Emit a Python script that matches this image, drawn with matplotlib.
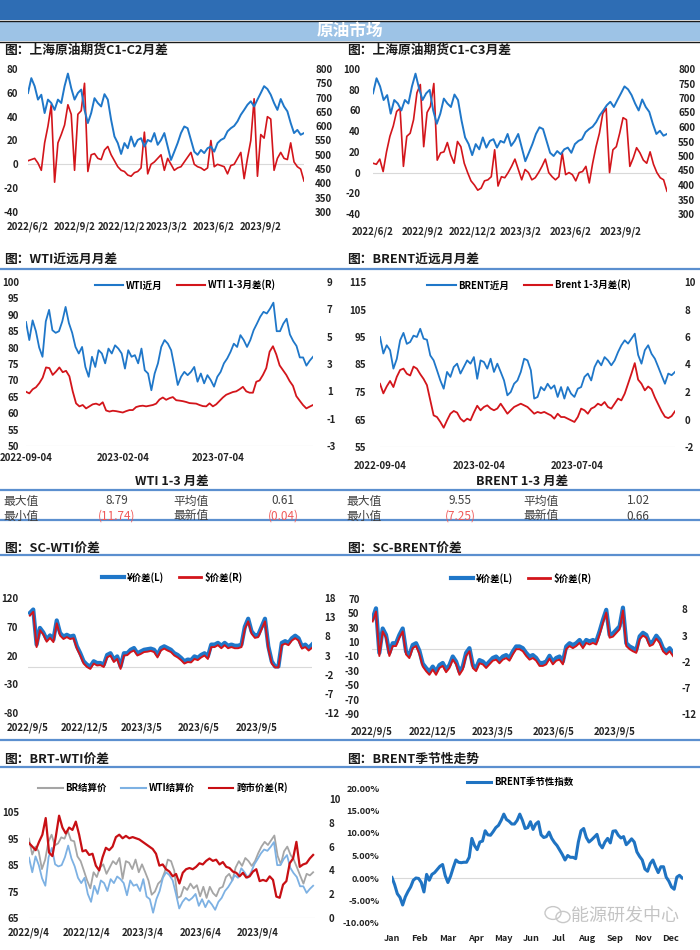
import matplotlib
matplotlib.use("Agg")
import matplotlib.pyplot as plt
import matplotlib.dates as mdates
from matplotlib.lines import Line2D
from matplotlib.patches import Rectangle, Ellipse
import numpy as np
import pandas as pd

plt.rcParams['font.family'] = ['Noto Sans CJK SC', 'DejaVu Sans']
plt.rcParams['font.weight'] = 'bold'
plt.rcParams['axes.unicode_minus'] = False

# ---------------- data ----------------
# SC crude front price (right axis of the two top charts)
sc_price = [716, 768, 740, 693, 710, 646, 693, 681, 657, 693,
            681, 740, 784, 733, 693, 716, 728, 657, 611, 646,
            698, 681, 669, 712, 693, 622, 564, 541, 503, 541,
            523, 564, 529, 552, 558, 529, 552, 546, 576, 535,
            552, 576, 529, 482, 511, 541, 576, 599, 593, 552,
            511, 500, 517, 506, 523, 529, 511, 541, 552, 558,
            582, 593, 601, 617, 640, 657, 675, 687, 669, 693,
            716, 740, 730, 710, 681, 657, 695, 669, 652, 611,
            576, 587, 570, 576]
sc_c1c2 = [3, 4, 5, 1, -5, 18, 32, 50, -15, 18,
           25, 33, 50, 42, -5, 42, 45, 68, -6, 8,
           9, 5, 4, 12, 15, 8, 3, -2, -5, -6,
           -9, -10, -7, -6, -3, 27, -8, 0, 2, 5,
           8, -5, 5, 0, -5, -3, -2, 2, 6, 10,
           0, -2, -3, -5, -3, 20, -2, 0, -1, -2,
           -8, -1, 0, 5, 10, -12, 5, 20, 55, -10,
           25, 22, 40, 38, -5, 5, 10, 5, 4, 18,
           2, -2, -4, -14]
sc_c1c3 = [9, 8, 13, 1, 20, 35, 45, 59, 62, 6,
           35, 38, 51, 77, 85, 25, 58, 64, 86, 12,
           19, 20, 29, 17, 9, 30, 25, 9, 0, -8,
           -12, -17, -15, -8, -7, -4, 22, -13, -4, -5,
           0, 6, 13, 3, -7, 3, 0, -7, -5, 0,
           6, 13, 0, -4, -7, -4, 19, -2, 0, -2,
           -8, 0, 1, 6, -10, 9, 25, 38, 57, 62,
           0, 22, 25, 38, 53, 51, 6, 14, 24, 19,
           12, 9, 20, 8, 0, -5, -7, -18]

wti_near = [87.8, 82.3, 88.3, 85.0, 80.0, 77.2, 88.0, 91.5, 85.3, 84.5,
            85.0, 88.0, 92.4, 87.5, 84.5, 80.2, 78.2,
            80.2, 74.1, 71.1, 77.2, 74.1, 79.2, 78.2, 75.2, 79.7, 78.2,
            80.7, 79.7, 78.2, 73.6, 79.2, 77.2, 77.7, 75.2, 79.7, 73.1,
            72.1, 67.0, 72.1, 75.2, 80.2, 82.3, 81.2, 79.2, 74.1, 68.6,
            71.1, 72.6, 71.6, 72.6, 74.1, 69.6, 72.1, 69.1, 71.6, 70.1,
            68.1, 71.1, 72.6, 75.2, 76.7, 78.7, 81.2, 80.2, 83.8, 82.3,
            80.2, 82.3, 85.3, 87.3, 89.4, 90.9,
            90.4, 91.9, 93.7, 85.0, 85.0, 87.3, 88.8, 84.0, 82.0, 80.5,
            77.0, 77.0, 74.5, 76.0, 77.2]
wti_13 = [0.97, 0.85, 1.15, 1.3, 1.6, 2.0, 2.75, 2.7, 2.2, 2.45,
          2.75, 2.4, 2.5, 2.1, 1.0, 0.12, -0.1, 0.0, -0.25, -0.1,
          0.05, 0.1, 0.0, 0.2, -0.4, -0.48, -0.42, -0.45, -0.5, -0.55,
          -0.45, -0.37, -0.37, -0.15, -0.08, -0.05, -0.1, -0.05, 0.0, 0.1,
          0.4, 0.55, 0.38, 0.5, 0.58, 0.35, 0.32, 0.28, 0.22, 0.14,
          0.12, 0.1, 0.0, -0.08, -0.1, 0.12, -0.1, 0.05, 0.3, 0.55,
          0.75, 0.85, 0.95, 1.0, 1.15, 1.33, 1.0, 0.9, 0.9, 1.7,
          1.8, 2.2, 2.7, 3.9, 4.3, 3.7, 2.9, 2.55, 2.2, 1.75,
          1.4, 0.65, 0.32, 0.0, -0.25, -0.12, 0.0]

brent_near = [95.0, 89.0, 92.0, 90.2, 83.5, 87.0, 93.8, 96.5, 92.5, 93.2,
              95.5, 95.0, 98.0, 94.4, 94.0, 88.3, 86.5, 82.9, 79.2, 76.2,
              82.3, 80.5, 84.1, 85.3, 81.7, 84.1, 86.5, 85.3, 87.7, 79.8,
              86.5, 85.9, 83.5, 87.1, 82.3, 85.3, 82.3, 79.2, 73.8, 75.0,
              78.0, 79.2, 82.3, 87.1, 86.5, 82.9, 72.6, 73.2, 76.8, 75.6,
              78.0, 76.2, 77.4, 73.2, 76.8, 72.6, 76.8, 74.4, 73.2, 76.2,
              76.8, 80.5, 81.7, 79.2, 84.1, 86.5, 84.7, 87.7, 86.5, 84.7,
              86.5, 89.5, 92.0, 93.8, 92.6, 94.4, 96.2, 88.5, 85.3, 90.2,
              92.0, 88.9, 87.1, 84.1, 81.0, 78.0, 81.7, 81.1, 82.3]
brent_13 = [2.6, 1.9, 2.4, 2.8, 2.36, 3.1, 3.6, 3.7, 3.33, 3.2,
            3.85, 3.7, 3.3, 2.95, 2.5, 1.4, 0.3, 0.18, -0.18, -0.6,
            -0.06, 0.42, 0.62, 0.5, 0.06, -0.15, 0.06, -0.06, 0.5, 1.0,
            0.67, 0.91, 1.03, 0.8, 0.67, 0.8, 1.15, 0.79, 0.42, 0.67,
            0.91, 1.03, 1.15, 1.03, 0.91, 0.67, 0.42, 0.55, 0.47, 0.55,
            0.42, 0.3, 0.06, 0.42, 0.18, 0.18, 0.06, -0.06, -0.18, 0.18,
            0.79, 0.67, 0.42, 0.79, 0.91, 1.15, 1.03, 1.27, 0.91, 0.79,
            1.15, 1.52, 1.39, 1.88, 2.6, 3.33, 4.1, 2.9, 2.6, 2.12,
            2.4, 2.2, 1.6, 1.1, 0.6, 0.2, 0.1, 0.25, 0.6]

sc_wti_cny = [94, 100, 39, 68, 60, 48, 55, 47.5, 81, 59,
              53, 56, 53, 54.5, 36, 24, 10, 4, 1, 10,
              7, 7, 4, 21, 24, 13, 18.5, 1, 24, 24,
              30, 33, 24, 27, 30, 31, 32, 30, 21, 33,
              36, 33, 30, 24, 21, 16, 10, 13, 12, 18.5,
              16, 21, 24, 18.5, 39, 39, 42, 37, 42, 37,
              39, 37, 37, 39, 70, 84, 62, 55, 56, 70,
              84, 36, 10, 1, 1, 42, 45, 42, 50, 54.5,
              50, 36, 39, 33, 39]
sc_wti_usd = [13.4, 14.4, 5.2, 9.6, 8.5, 6.6, 7.6, 6.5, 11.4, 8.2,
              7.3, 7.8, 7.3, 7.5, 4.8, 3.0, 0.9, 0.0, -0.5, 0.9,
              0.4, 0.5, 0.0, 2.5, 3.0, 1.3, 2.1, -0.5, 3.0, 3.1,
              3.9, 4.3, 3.0, 3.4, 3.9, 4.0, 4.2, 3.9, 2.5, 4.3,
              4.8, 4.3, 3.9, 3.0, 2.5, 1.8, 0.9, 1.3, 1.2, 2.1,
              1.8, 2.5, 3.0, 2.1, 5.2, 5.2, 5.7, 4.9, 5.7, 4.9,
              5.2, 4.9, 4.9, 5.2, 9.9, 11.9, 8.7, 7.6, 7.8, 9.9,
              11.9, 4.8, 0.9, -0.1, -0.1, 5.7, 6.1, 5.7, 6.9, 7.5,
              6.9, 4.8, 5.2, 4.3, 5.0]

sc_brent_cny = [43, 57, -5, 29, 20, -5, 8.5, 8.5, 20, 29,
                -3, -8, 6, 8.5, -2, -20, -26, -31, -24, -31,
                -22, -19, -28, -22, -10, -17, -31, -24, -5, 1.6,
                -22, -26, -15, -17, -22, -17, -12, -10, -15, -10,
                -8, -12, -3, 4, 4, 1.6, -5, -10, -8, -12,
                -19, -19, -17, -9, -17, -12, -10, -17, 4, 8.5,
                6, 8.5, 13, 6, 13, 11, 13, 11, 25, 41,
                55, 20, 22, 27, 32, 58, 8.5, 4, 1.6, -1,
                18, 23, 20, 8.5, 11, 19, 13, 1.6, -3, 1.6, -5]
sc_brent_usd = [5.7, 7.6, -0.9, 3.8, 2.6, -0.9, 1.0, 1.0, 2.6, 3.8,
                -0.6, -1.3, 0.6, 1.0, -0.5, -2.9, -3.8, -4.5, -3.5, -4.5,
                -3.2, -2.8, -4.0, -3.2, -1.6, -2.5, -4.5, -3.5, -0.9, 0.0,
                -3.2, -3.8, -2.3, -2.5, -3.2, -2.5, -1.8, -1.6, -2.3, -1.6,
                -1.3, -1.8, -0.6, 0.4, 0.4, 0.0, -0.9, -1.6, -1.3, -1.8,
                -2.8, -2.8, -2.5, -1.4, -2.5, -1.8, -1.6, -2.5, 0.4, 1.0,
                0.6, 1.0, 1.6, 0.6, 1.6, 1.3, 1.6, 1.3, 3.2, 5.4,
                7.4, 2.6, 2.8, 3.5, 4.2, 7.8, 1.0, 0.4, 0.0, -0.3,
                2.3, 3.0, 2.6, 1.0, 1.3, 2.4, 1.6, 0.0, -0.6, 0.0, -0.9]

brt_wti_spread = [6.3, 6.0, 5.7, 6.4, 7.0, 8.4, 5.5, 5.2, 6.8, 8.6,
                  7.6, 7.1, 7.6, 7.4, 8.1, 7.0, 5.6, 5.7, 5.3, 5.4,
                  4.4, 4.0, 5.1, 5.9, 5.7, 6.0, 6.8, 7.0, 6.7, 6.9,
                  6.7, 6.8, 6.7, 6.6, 6.4, 6.2, 6.0, 5.8, 5.4, 4.4,
                  4.5, 4.1, 3.9, 3.5, 3.7, 2.9, 3.8, 4.1, 4.2, 4.1,
                  4.3, 4.6, 4.5, 4.8, 5.0, 4.8, 4.9, 4.5, 4.7, 4.3,
                  4.2, 3.9, 3.8, 3.5, 3.8, 3.4, 3.5, 3.9, 4.1, 3.1,
                  3.2, 3.1, 3.5, 3.2, 1.8, 1.7, 2.8, 3.1, 4.6, 5.0,
                  6.4, 4.3, 4.5, 4.6, 5.0, 5.3]

brent_season = [0.1, -1.5, -3.5, -4.3, -6.0, -4.2, -3.0, -2.0, -0.5, 0.0,
                -0.1, -1.0, -3.1, 0.8, -0.5, 0.8, 1.2, 1.9, 2.6, 3.0,
                0.5, -1.0, 0.4, 2.3, 4.0, 3.5, 3.4, 3.5, 3.5, 4.6,
                8.8, 7.2, 6.3, 8.0, 8.2, 10.5, 9.6, 9.5, 10.3, 11.2,
                11.7, 12.8, 14.2, 13.0, 12.6, 12.0, 12.0, 12.8, 14.2, 12.8,
                11.0, 11.2, 12.5, 10.8, 12.0, 12.5, 9.6, 9.0, 9.2, 10.2,
                8.8, 7.9, 7.2, 6.2, 5.2, 4.0, 5.0, 4.6, 4.6, 4.3,
                8.0, 10.5, 11.0, 9.0, 8.0, 8.5, 9.1, 9.7, 7.5, 6.7,
                8.0, 8.8, 7.8, 10.4, 10.5, 9.5, 8.9, 9.2, 7.4, 8.0,
                8.7, 8.0, 5.8, 4.8, 4.0, 2.0, 1.5, 3.2, 4.0, 2.5,
                1.2, 2.5, 2.5, 0.2, -0.7, -2.0, -2.5, 0.2, 0.6, 0.0]
season_months = ['Jan', 'Feb', 'Mar', 'Apr', 'May', 'Jun', 'Jul', 'Aug', 'Sep', 'Nov', 'Dec']

# ---------------- layout helpers ----------------
W, H = 700, 950
BLUE = '#1f77c9'
RED = '#d3151b'
LINE_BLUE = '#5b8fcf'
fig = plt.figure(figsize=(7, 9.5), dpi=100)


def px_axes(x0, y0, x1, y1):
    return fig.add_axes([x0 / W, 1 - y1 / H, (x1 - x0) / W, (y1 - y0) / H])


def dnum(start, end, n):
    return mdates.date2num(pd.date_range(start, end, periods=n).to_pydatetime())


def style(ax, ylim, yticks, fmt=str, pad=5, size=7):
    ax.set_ylim(*ylim)
    ax.set_yticks(yticks)
    ax.set_yticklabels([fmt(v) for v in yticks])
    for s in ax.spines.values():
        s.set_visible(False)
    ax.tick_params(length=0, labelsize=size, pad=pad, colors='#222222')
    ax.patch.set_visible(False)


def date_ticks(ax, dates, fmt, xlim):
    ts = pd.to_datetime(dates)
    ax.set_xticks(mdates.date2num(ts.to_pydatetime()))
    ax.set_xticklabels([fmt(t) for t in ts])
    ax.set_xlim(*mdates.date2num(pd.to_datetime(xlim).to_pydatetime()))


slash = lambda t: f"{t.year}/{t.month}/{t.day}"
dash = lambda t: t.strftime('%Y-%m-%d')


def legend(ax, items, cx, cy, hl=3.0):
    handles = [Line2D([], [], color=c, lw=w) for _, c, w in items]
    ax.legend(handles, [t for t, _, _ in items], loc='center',
              bbox_to_anchor=(cx / W, 1 - cy / H), bbox_transform=fig.transFigure,
              ncol=len(items), frameon=False, handlelength=hl, columnspacing=1.5,
              handletextpad=0.3, prop={'size': 6.8, 'weight': 'bold'})


def ftext(x, y, s, **kw):
    fig.text(x / W, 1 - y / H, s, **kw)


def hline(y, x0=0, x1=700, color=LINE_BLUE, lw=1.6):
    fig.add_artist(Line2D([x0 / W, x1 / W], [1 - y / H, 1 - y / H], color=color, lw=lw))


# ---------------- header ----------------
fig.add_artist(Rectangle((0, 1 - 20 / H), 1, 20 / H, transform=fig.transFigure,
                         facecolor='#2e6db4', edgecolor='none'))
fig.add_artist(Rectangle((0, 1 - 41 / H), 1, 20 / H, transform=fig.transFigure,
                         facecolor='#9dc3e6', edgecolor='none'))
hline(20.5, color='#1a1a1a', lw=1.0)
hline(41.5, color='#1a1a1a', lw=1.0)
ftext(350, 31, '原油市场', color='white', fontsize=12, ha='center', va='center')

title_kw = dict(fontsize=9.2, va='center', color='#1a1a1a')
ftext(4, 50, '图：上海原油期货C1-C2月差', **title_kw)
ftext(347, 50, '图：上海原油期货C1-C3月差', **title_kw)
ftext(4, 260, '图：WTI近远月月差', **title_kw)
ftext(347, 260, '图：BRENT近远月月差', **title_kw)
ftext(4, 548, '图：SC-WTI价差', **title_kw)
ftext(347, 548, '图：SC-BRENT价差', **title_kw)
ftext(4, 759, '图：BRT-WTI价差', **title_kw)
ftext(347, 759, '图：BRENT季节性走势', **title_kw)
for y in (269, 490, 520, 554.5, 740, 767):
    hline(y)

ticks_q = ['2022-06-02', '2022-09-02', '2022-12-02', '2023-03-02', '2023-06-02', '2023-09-02']

# ---------------- chart 1: C1-C2 ----------------
ax = px_axes(28, 69, 304, 212)
d = dnum('2022-06-02', '2023-11-27', len(sc_c1c2))
ax.axhline(0, color='#d9d9d9', lw=0.8)
ax.plot(d, sc_c1c2, color=RED, lw=1.2)
style(ax, (-40, 80), range(-40, 81, 20), pad=7)
date_ticks(ax, ticks_q, slash, ('2022-06-02', '2023-11-27'))
ax2 = ax.twinx()
ax2.plot(dnum('2022-06-02', '2023-11-27', len(sc_price)), sc_price, color=BLUE, lw=1.4)
style(ax2, (300, 800), range(300, 801, 50), pad=8)

# ---------------- chart 2: C1-C3 ----------------
ax = px_axes(373, 69, 667, 214)
ax.axhline(0, color='#d9d9d9', lw=0.8)
ax.plot(dnum('2022-06-02', '2023-11-27', len(sc_c1c3)), sc_c1c3, color=RED, lw=1.2)
style(ax, (-40, 100), range(-40, 101, 20), pad=9)
date_ticks(ax, ticks_q, slash, ('2022-06-02', '2023-11-27'))
ax2 = ax.twinx()
ax2.plot(dnum('2022-06-02', '2023-11-27', len(sc_price)), sc_price, color=BLUE, lw=1.4)
style(ax2, (300, 800), range(300, 801, 50), pad=8)

# ---------------- chart 3: WTI ----------------
ax = px_axes(26, 282, 313, 446)
ax.axhline(50, color='#d9d9d9', lw=0.8)
ax.plot(dnum('2022-09-04', '2023-12-01', len(wti_near)), wti_near, color=BLUE, lw=1.3)
style(ax, (50, 100), range(50, 101, 5), pad=5)
date_ticks(ax, ['2022-09-04', '2023-02-04', '2023-07-04'], dash, ('2022-09-04', '2023-12-01'))
ax2 = ax.twinx()
ax2.plot(dnum('2022-09-04', '2023-12-01', len(wti_13)), wti_13, color=RED, lw=1.3)
style(ax2, (-3, 9), range(-3, 10, 2), pad=10)
legend(ax2, [('WTI近月', BLUE, 1.5), ('WTI 1-3月差(R)', RED, 1.5)], 185, 285)

# ---------------- chart 4: BRENT ----------------
ax = px_axes(380, 282, 675, 447)
ax.axhline(55, color='#d9d9d9', lw=0.8)
ax.plot(dnum('2022-09-04', '2023-12-01', len(brent_near)), brent_near, color=BLUE, lw=1.3)
style(ax, (55, 115), range(55, 116, 10), pad=10)
date_ticks(ax, ['2022-09-04', '2023-02-04', '2023-07-04'], dash, ('2022-09-04', '2023-12-01'))
ax2 = ax.twinx()
ax2.plot(dnum('2022-09-04', '2023-12-01', len(brent_13)), brent_13, color=RED, lw=1.3)
style(ax2, (-2, 10), range(-2, 11, 2), pad=7)
legend(ax2, [('BRENT近月', BLUE, 1.5), ('Brent 1-3月差(R)', RED, 1.5)], 529, 285)

# ---------------- tables ----------------
cell = dict(fontsize=8.5, va='center', color='#404040', fontweight='normal')
red_cell = dict(cell, color='#f05a5a')
ftext(172, 481, 'WTI 1-3 月差', fontsize=9, ha='center', va='center', color='#1a1a1a')
ftext(3, 501, '最大值', **cell)
ftext(117, 501, '8.79', ha='center', **cell)
ftext(173, 501, '平均值', **cell)
ftext(283, 501, '0.61', ha='center', **cell)
ftext(3, 516, '最小值', **cell)
ftext(117, 516, '(11.74)', ha='center', **red_cell)
ftext(173, 516, '最新值', **cell)
ftext(283, 516, '(0.04)', ha='center', **red_cell)

ftext(522, 481, 'BRENT 1-3 月差', fontsize=9, ha='center', va='center', color='#1a1a1a')
ftext(346, 501, '最大值', **cell)
ftext(460, 501, '9.55', ha='center', **cell)
ftext(523, 501, '平均值', **cell)
ftext(638, 501, '1.02', ha='center', **cell)
ftext(346, 516, '最小值', **cell)
ftext(460, 516, '(7.25)', ha='center', **red_cell)
ftext(523, 516, '最新值', **cell)
ftext(638, 516, '0.66', ha='center', **cell)

ticks_m = ['2022-09-05', '2022-12-05', '2023-03-05', '2023-06-05', '2023-09-05']

# ---------------- chart 5: SC-WTI ----------------
ax = px_axes(28, 598, 312, 713)
ax.axhline(0, color='#d9d9d9', lw=0.8)
ax.plot(dnum('2022-09-08', '2023-12-03', len(sc_wti_cny)), sc_wti_cny, color=BLUE, lw=3.0)
style(ax, (-80, 120), range(-80, 121, 50), pad=7)
date_ticks(ax, ticks_m, slash, ('2022-09-05', '2023-12-03'))
ax2 = ax.twinx()
ax2.plot(dnum('2022-09-08', '2023-12-03', len(sc_wti_usd)), sc_wti_usd, color=RED, lw=1.4)
style(ax2, (-12, 18), range(-12, 19, 5), pad=9)
legend(ax2, [('¥价差(L)', BLUE, 3.0), ('$价差(R)', RED, 2.0)], 172, 577, hl=2.4)

# ---------------- chart 6: SC-BRENT ----------------
ax = px_axes(372, 599, 673, 714)
ax.axhline(0, color='#d9d9d9', lw=0.8)
ax.plot(dnum('2022-09-06', '2023-12-01', len(sc_brent_cny)), sc_brent_cny, color=BLUE, lw=3.0)
style(ax, (-90, 70), range(-90, 71, 20), pad=9)
date_ticks(ax, ticks_m, slash, ('2022-09-05', '2023-12-01'))
ax2 = ax.twinx()
ax2.plot(dnum('2022-09-06', '2023-12-01', len(sc_brent_usd)), sc_brent_usd, color=RED, lw=1.4)
style(ax2, (-12, 10), range(-12, 9, 5), pad=6)
legend(ax2, [('¥价差(L)', BLUE, 3.0), ('$价差(R)', RED, 2.0)], 521, 578, hl=2.4)

# ---------------- chart 7: BRT-WTI ----------------
ax = px_axes(29, 799, 315, 918)
ax.axhline(65, color='#d9d9d9', lw=0.8)
ax.plot(dnum('2022-09-04', '2023-12-01', len(brent_near)), brent_near, color='#a5a5a5', lw=1.3)
ax.plot(dnum('2022-09-04', '2023-12-01', len(wti_near)), wti_near, color='#7db1e3', lw=1.3)
style(ax, (65, 110), range(65, 106, 10), pad=7)
date_ticks(ax, ['2022-09-04', '2022-12-04', '2023-03-04', '2023-06-04', '2023-09-04'], slash,
           ('2022-09-04', '2023-12-04'))
ax2 = ax.twinx()
ax2.plot(dnum('2022-09-04', '2023-12-01', len(brt_wti_spread)), brt_wti_spread, color='#c80f14', lw=1.6)
style(ax2, (0, 10), range(0, 11, 2), pad=10)
legend(ax2, [('BR结算价', '#a5a5a5', 1.5), ('WTI结算价', '#7db1e3', 1.5), ('跨市价差(R)', '#c80f14', 1.5)],
       163, 788, hl=2.6)

# ---------------- chart 8: BRENT seasonality ----------------
ax = px_axes(392, 788, 683, 923)
ax.axhline(0, color='#d9d9d9', lw=0.8)
ax.plot(np.linspace(0, 10.42, len(brent_season)), brent_season, color='#1f73c2', lw=2.2)
style(ax, (-10, 20), range(-10, 21, 5), fmt=lambda v: f'{v:.2f}%', pad=9, size=6.6)
ax.set_xticks(range(len(season_months)))
ax.set_xticklabels(season_months)
ax.set_xlim(0, 10.45)
ax.tick_params(axis='x', pad=8)
legend(ax, [('BRENT季节性指数', '#1f73c2', 2.2)], 520, 782, hl=2.6)

# watermark
for cx, cy, r in ((553, 913, 8), (563, 917, 7)):
    fig.add_artist(Ellipse((cx / W, 1 - cy / H), 2 * r / W, 1.6 * r / H, transform=fig.transFigure,
                           facecolor='none', edgecolor='#c8c8c8', lw=1.0))
ftext(625, 916, '能源研发中心', fontsize=13, ha='center', va='center', color='#c4c4c4',
      fontweight='normal')

fig.savefig('out.png', dpi=100)
